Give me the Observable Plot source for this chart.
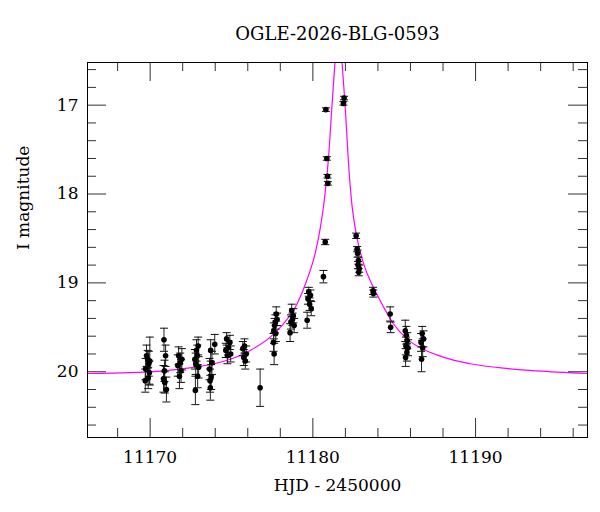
<!DOCTYPE html>
<html>
<head>
<meta charset="utf-8">
<script src="https://cdn.jsdelivr.net/npm/d3@7"></script>
<script src="https://cdn.jsdelivr.net/npm/@observablehq/plot@0.6"></script>
<style>
  html, body { margin: 0; padding: 0; background: #fff; }
</style>
</head>
<body>
<div id="chart"></div>
<script>
// ---- Observations (HJD - 2450000, I magnitude, error) ----
const hjd = [
  11169.78, 11169.85, 11169.92, 11169.72, 11169.95, 11169.88, 11169.70, 11169.98,
  11170.85, 11170.95, 11170.88, 11170.82, 11170.90, 11171.00,
  11171.75, 11171.95, 11171.85, 11171.70, 11171.90, 11171.80,
  11172.95, 11172.85, 11172.90, 11172.75, 11172.80, 11172.98, 11172.92, 11172.78,
  11173.97, 11173.72, 11173.80, 11173.65, 11173.75, 11173.68, 11173.70,
  11174.70, 11174.90, 11174.80, 11174.65, 11174.95, 11174.75,
  11175.80, 11175.70, 11175.90, 11175.75, 11175.85,
  11176.76,
  11177.75, 11177.80, 11177.70, 11177.65, 11177.60, 11177.72, 11177.58, 11177.62,
  11178.70, 11178.80, 11178.75, 11178.65, 11178.85, 11178.60,
  11179.75, 11179.85, 11179.70, 11179.80, 11179.90, 11179.65,
  11180.65, 11180.76, 11180.80, 11180.86, 11180.90, 11180.92, 11181.92, 11181.88,
  11182.66, 11182.72, 11182.75, 11182.80, 11182.78, 11182.85, 11182.82, 11183.70, 11183.72,
  11184.75, 11184.78,
  11185.68, 11185.75, 11185.80, 11185.72, 11185.85, 11185.78, 11185.70,
  11186.72, 11186.80, 11186.65, 11186.75, 11186.68
];
const imag = [
  19.82, 19.86, 19.91, 19.97, 20.01, 20.07, 20.10, 19.88,
  19.64, 19.82, 19.99, 20.08, 20.12, 20.20,
  19.82, 19.86, 19.90, 19.93, 19.99, 20.05,
  19.71, 19.76, 19.82, 19.86, 19.91, 19.95, 20.05, 20.21,
  19.69, 19.76, 19.90, 19.97, 20.06, 20.10, 20.18,
  19.63, 19.67, 19.73, 19.76, 19.80, 19.82,
  19.71, 19.74, 19.80, 19.84, 19.88,
  20.18,
  19.35, 19.41, 19.44, 19.48, 19.54, 19.57, 19.67, 19.80,
  19.31, 19.37, 19.41, 19.44, 19.48, 19.56,
  19.10, 19.14, 19.18, 19.24, 19.29, 19.42,
  18.93, 18.54, 17.05, 17.60, 17.80, 17.88, 16.92, 16.98,
  18.47, 18.62, 18.67, 18.75, 18.80, 18.84, 18.88, 19.09, 19.12,
  19.35, 19.50,
  19.54, 19.59, 19.65, 19.71, 19.73, 19.78, 19.84,
  19.57, 19.63, 19.67, 19.73, 19.86
];
const ierr = [
  0.12, 0.10, 0.14, 0.12, 0.13, 0.12, 0.13, 0.27,
  0.13, 0.12, 0.12, 0.15, 0.12, 0.14,
  0.10, 0.12, 0.11, 0.12, 0.13, 0.14,
  0.10, 0.12, 0.12, 0.11, 0.12, 0.12, 0.13, 0.16,
  0.11, 0.12, 0.13, 0.12, 0.14, 0.13, 0.14,
  0.07, 0.08, 0.08, 0.08, 0.09, 0.09,
  0.08, 0.08, 0.09, 0.09, 0.09,
  0.21,
  0.08, 0.07, 0.08, 0.08, 0.09, 0.09, 0.10, 0.12,
  0.07, 0.08, 0.07, 0.08, 0.08, 0.10,
  0.05, 0.06, 0.06, 0.07, 0.08, 0.09,
  0.07, 0.03, 0.02, 0.02, 0.02, 0.02, 0.02, 0.02,
  0.03, 0.03, 0.04, 0.04, 0.04, 0.04, 0.04, 0.04, 0.04,
  0.08, 0.06,
  0.12, 0.10, 0.09, 0.10, 0.09, 0.10, 0.10,
  0.08, 0.09, 0.10, 0.10, 0.14
];

// ---- Model curve ----
const modelT = [
  11166.13, 11168.77, 11171.84, 11174.92, 11176.15, 11177.38, 11178.19, 11179.02,
  11179.63, 11180.14, 11180.45, 11180.69, 11180.96, 11181.17, 11181.37, 11181.58,
  11181.78, 11181.99, 11182.19, 11182.40, 11182.70, 11183.11, 11183.72, 11184.34,
  11184.95, 11185.78, 11186.59, 11187.62, 11188.64, 11189.67, 11191.71, 11193.77,
  11196.84
];
const modelMag = [
  20.02, 20.01, 19.97, 19.86, 19.76, 19.61, 19.46, 19.24,
  18.97, 18.67, 18.39, 18.09, 17.60, 17.02, 16.49, 15.98,
  16.49, 17.02, 17.65, 18.12, 18.48, 18.78, 19.05, 19.27,
  19.46, 19.63, 19.73, 19.81, 19.87, 19.91, 19.96, 19.99,
  20.02
];

// ---- Axes ----
const xTicks = [11170, 11180, 11190];
const xMinorTicks = [11168, 11172, 11174, 11176, 11178, 11182, 11184, 11186, 11188, 11192, 11194, 11196];
const yTicks = [17, 18, 19, 20];
const yMinorTicks = [16.6, 16.8, 17.2, 17.4, 17.6, 17.8, 18.2, 18.4, 18.6, 18.8, 19.2, 19.4, 19.6, 19.8, 20.2, 20.4, 20.6];

const titleText = "OGLE-2026-BLG-0593";
const xLabel = "HJD - 2450000";
const yLabel = "I magnitude";

const obs = hjd.map((t, i) => ({t, m: imag[i], e: ierr[i]}));
const model = modelT.map((t, i) => ({t, m: modelMag[i]}));

const W = 600, H = 512, ML = 87, MR = 13, MT = 62, MB = 75;
const PW = W - ML - MR, PH = H - MT - MB;
const MINOR = 9, MAJOR = 19;
const cap = {draw(ctx) { ctx.moveTo(-4, 0); ctx.lineTo(4, 0); }};
const tickColor = "#333";

// inward ticks on all four sides, sized in pixels via insets
function xTickMarks(values, len) {
  return [
    Plot.ruleX(values, {x: d => d, insetTop: PH - len, stroke: tickColor}),
    Plot.ruleX(values, {x: d => d, insetBottom: PH - len, stroke: tickColor})
  ];
}
function yTickMarks(values, len) {
  return [
    Plot.ruleY(values, {y: d => d, insetRight: PW - len, stroke: tickColor}),
    Plot.ruleY(values, {y: d => d, insetLeft: PW - len, stroke: tickColor})
  ];
}

const chart = Plot.plot({
  width: W,
  height: H,
  marginLeft: ML,
  marginRight: MR,
  marginTop: MT,
  marginBottom: MB,
  style: {fontFamily: "'DejaVu Serif', serif", fontSize: "17px", background: "#fff", color: "#000", overflow: "visible"},
  x: {domain: [11166.15, 11196.88]},
  y: {domain: [20.74, 16.52]},
  marks: [
    // model
    Plot.line(model, {x: "t", y: "m", stroke: "#ff00ff", strokeWidth: 1.2, curve: "monotone-x", clip: true}),
    // error bars
    Plot.ruleX(obs, {x: "t", y1: d => d.m - d.e, y2: d => d.m + d.e, stroke: "#222", strokeWidth: 1}),
    Plot.dot(obs, {x: "t", y: d => d.m - d.e, symbol: cap, stroke: "#111", fill: "none", strokeWidth: 1}),
    Plot.dot(obs, {x: "t", y: d => d.m + d.e, symbol: cap, stroke: "#111", fill: "none", strokeWidth: 1}),
    Plot.dot(obs, {x: "t", y: "m", r: 2.8, fill: "#000", stroke: "none"}),
    // ticks
    ...xTickMarks(xMinorTicks, MINOR),
    ...xTickMarks(xTicks, MAJOR),
    ...yTickMarks(yMinorTicks, MINOR),
    ...yTickMarks(yTicks, MAJOR),
    // tick labels
    Plot.axisX(xTicks, {anchor: "bottom", tickSize: 0, tickPadding: 13, tickFormat: d => String(d), label: null, fill: "#000"}),
    Plot.axisY(yTicks, {anchor: "left", tickSize: 0, tickPadding: 9, tickFormat: d => String(d), label: null, fill: "#000"}),
    Plot.frame({stroke: "#000", strokeWidth: 1}),
    // title and axis labels
    Plot.text([titleText], {frameAnchor: "top", dy: -35, fontSize: 18, fill: "#000"}),
    Plot.text([xLabel], {frameAnchor: "bottom", dy: 53, fontSize: 17, fill: "#000"}),
    Plot.text([yLabel], {frameAnchor: "left", dx: -64, rotate: -90, fontSize: 17, fill: "#000"})
  ]
});
document.getElementById("chart").appendChild(chart);
</script>
</body>
</html>
